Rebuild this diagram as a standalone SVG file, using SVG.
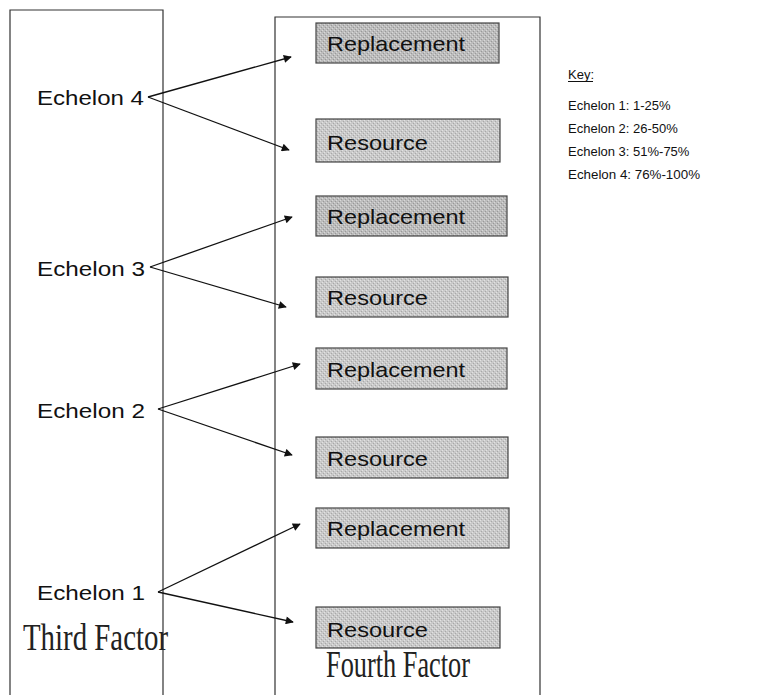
<svg xmlns="http://www.w3.org/2000/svg" width="759" height="695" viewBox="0 0 759 695">
  <defs>
    <marker id="head" viewBox="0 0 10 10" refX="9" refY="5" markerWidth="11" markerHeight="8" markerUnits="userSpaceOnUse" orient="auto">
      <path d="M0,0 L10,5 L0,10 Z" fill="#111"/>
    </marker>
    <pattern id="grain" width="4" height="4" patternUnits="userSpaceOnUse">
      <rect width="4" height="4" fill="#c9c9c9"/>
      <rect x="0" y="0" width="1" height="1" fill="#e2e2e2"/>
      <rect x="2" y="2" width="1" height="1" fill="#e2e2e2"/>
      <rect x="1" y="3" width="1" height="1" fill="#a8a8a8"/>
      <rect x="3" y="1" width="1" height="1" fill="#a8a8a8"/>
    </pattern>
    <pattern id="grainDark" width="4" height="4" patternUnits="userSpaceOnUse">
      <rect width="4" height="4" fill="#bcbcbc"/>
      <rect x="0" y="0" width="1" height="1" fill="#d8d8d8"/>
      <rect x="2" y="2" width="1" height="1" fill="#d8d8d8"/>
      <rect x="1" y="3" width="1" height="1" fill="#999"/>
      <rect x="3" y="1" width="1" height="1" fill="#999"/>
    </pattern>
  </defs>
  <style>
    .frame { fill: none; stroke: #333; stroke-width: 1.2; }
    .box { fill: url(#grain); stroke: #444; stroke-width: 1.2; }
    .box.dark { fill: url(#grainDark); }
    .boxtext { font-family: "Liberation Sans", Arial, sans-serif; font-size: 21px; fill: #111; }
    .level { font-family: "Liberation Sans", Arial, sans-serif; font-size: 21px; fill: #111; }
    .factor { font-family: "Liberation Serif", "Times New Roman", serif; font-size: 37px; fill: #222; }
    .key { font-family: "Liberation Sans", Arial, sans-serif; font-size: 13px; fill: #111; }
    .link { stroke: #111; stroke-width: 1.3; fill: none; marker-end: url(#head); }
  </style>

  <rect width="759" height="695" fill="#fff"/>

  <!-- column frames, open at the bottom -->
  <g id="third-factor">
    <path class="frame" d="M10,695 V10 H163 V695"/>
    <text class="factor" x="23" y="650" textLength="145" lengthAdjust="spacingAndGlyphs">Third Factor</text>
  </g>
  <g id="fourth-factor">
    <path class="frame" d="M275,695 V17 H540 V695"/>
    <text class="factor" x="326" y="677" textLength="144" lengthAdjust="spacingAndGlyphs">Fourth Factor</text>
  </g>

  <!-- echelon labels -->
  <g id="echelon-4"><text class="level" x="37" y="105" textLength="107" lengthAdjust="spacingAndGlyphs">Echelon 4</text></g>
  <g id="echelon-3"><text class="level" x="37" y="276" textLength="108" lengthAdjust="spacingAndGlyphs">Echelon 3</text></g>
  <g id="echelon-2"><text class="level" x="37" y="418" textLength="108" lengthAdjust="spacingAndGlyphs">Echelon 2</text></g>
  <g id="echelon-1"><text class="level" x="37" y="600" textLength="108" lengthAdjust="spacingAndGlyphs">Echelon 1</text></g>

  <!-- outcome boxes -->
  <g id="replacement-4"><rect class="box dark" x="316" y="23" width="183" height="40"/><text class="boxtext" x="327" y="51" textLength="138" lengthAdjust="spacingAndGlyphs">Replacement</text></g>
  <g id="resource-4"><rect class="box" x="316" y="119" width="184" height="43"/><text class="boxtext" x="327" y="150" textLength="101" lengthAdjust="spacingAndGlyphs">Resource</text></g>
  <g id="replacement-3"><rect class="box dark" x="316" y="196" width="191" height="40"/><text class="boxtext" x="327" y="224" textLength="138" lengthAdjust="spacingAndGlyphs">Replacement</text></g>
  <g id="resource-3"><rect class="box" x="316" y="277" width="192" height="40"/><text class="boxtext" x="327" y="305" textLength="101" lengthAdjust="spacingAndGlyphs">Resource</text></g>
  <g id="replacement-2"><rect class="box" x="316" y="348" width="191" height="41"/><text class="boxtext" x="327" y="377" textLength="138" lengthAdjust="spacingAndGlyphs">Replacement</text></g>
  <g id="resource-2"><rect class="box" x="316" y="437" width="192" height="41"/><text class="boxtext" x="327" y="466" textLength="101" lengthAdjust="spacingAndGlyphs">Resource</text></g>
  <g id="replacement-1"><rect class="box" x="316" y="508" width="193" height="40"/><text class="boxtext" x="327" y="536" textLength="138" lengthAdjust="spacingAndGlyphs">Replacement</text></g>
  <g id="resource-1"><rect class="box" x="316" y="607" width="184" height="41"/><text class="boxtext" x="327" y="637" textLength="101" lengthAdjust="spacingAndGlyphs">Resource</text></g>

  <!-- connectors -->
  <g id="connectors">
    <line class="link" x1="148" y1="97" x2="291" y2="57"/>
    <line class="link" x1="148" y1="97" x2="289" y2="150"/>
    <line class="link" x1="150" y1="267" x2="292" y2="217"/>
    <line class="link" x1="150" y1="267" x2="286" y2="307"/>
    <line class="link" x1="158" y1="409" x2="300" y2="364"/>
    <line class="link" x1="158" y1="409" x2="292" y2="455"/>
    <line class="link" x1="158" y1="592" x2="300" y2="524"/>
    <line class="link" x1="158" y1="592" x2="293" y2="622"/>
  </g>

  <!-- legend -->
  <g id="key">
    <text class="key" x="568" y="79" font-size="14.5">Key:</text>
    <line x1="568" y1="81.5" x2="593" y2="81.5" stroke="#111" stroke-width="1"/>
    <text class="key" x="568" y="110">Echelon 1: 1-25%</text>
    <text class="key" x="568" y="133">Echelon 2: 26-50%</text>
    <text class="key" x="568" y="156">Echelon 3: 51%-75%</text>
    <text class="key" x="568" y="179" textLength="132" lengthAdjust="spacingAndGlyphs">Echelon 4: 76%-100%</text>
  </g>
</svg>
